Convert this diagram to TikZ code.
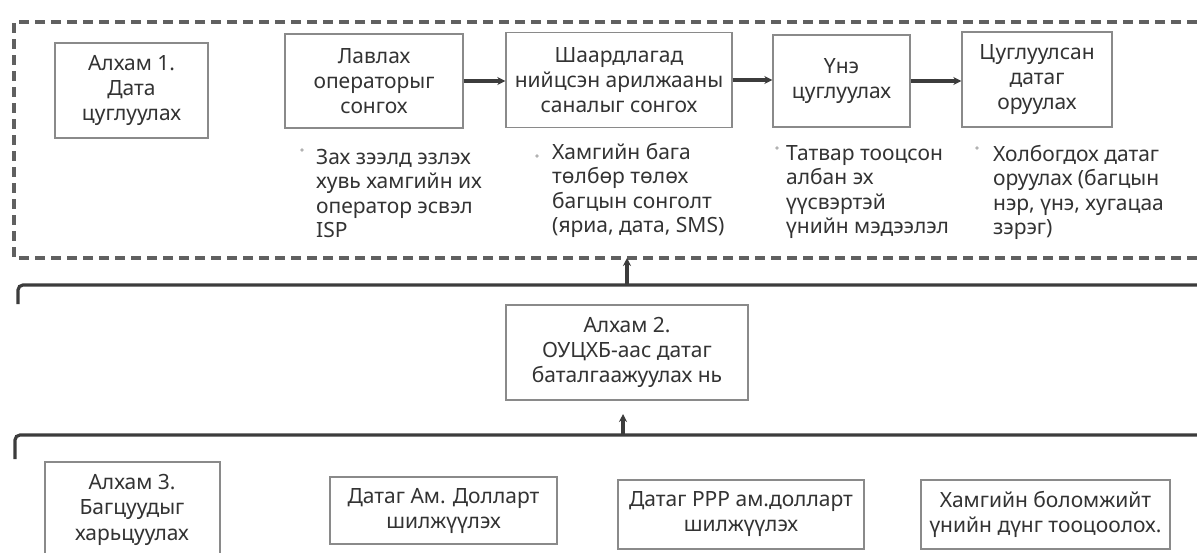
\documentclass[tikz,border=0pt]{standalone}
\usepackage{fontspec}
\setmainfont{Noto Sans}
\usetikzlibrary{arrows.meta}
\definecolor{boxgray}{HTML}{8A8A8A}
\definecolor{txtgray}{HTML}{333333}
\definecolor{linegray}{HTML}{3C3C3C}
\tikzset{
  stepbox/.style={draw=boxgray, line width=1.4pt, text=txtgray, align=center,
    inner sep=0pt, font=\fontsize{21}{25}\selectfont},
  note/.style={anchor=north west, align=left, inner sep=0pt, text=txtgray,
    font=\fontsize{21}{24.5}\selectfont},
  arr/.style={-{Stealth[length=8pt,width=8pt]}, line width=3.5pt, draw=linegray},
  bracket/.style={line width=3.2pt, draw=linegray, rounded corners=5pt},
  frame/.style={line width=3.5pt, draw=gray!75!black, dash pattern=on 10pt off 6pt}
}
\begin{document}
\begin{tikzpicture}[x=1pt,y=-1pt]
	\useasboundingbox (0,0) rectangle (1197,552);
	\fill[white] (0,0) rectangle (1197,552);

	% step 1 frame
	\draw[frame] (1197,22) -- (14,22) -- (14,258) -- (1197,258);
	\coordinate (fb) at (627,258);

	\node[stepbox, minimum width=153, minimum height=95] (s1) at (131.5,90.5) {Алхам 1.\\Дата\\цуглуулах};
	\node[stepbox, minimum width=178, minimum height=94] (lav) at (374,81) {Лавлах\\операторыг\\сонгох};
	\node[stepbox, minimum width=226, minimum height=95] (shaard) at (619,80) {Шаардлагад\\нийцсэн арилжааны\\саналыг сонгох};
	\node[stepbox, minimum width=137, minimum height=92] (une) at (841.5,81) {Үнэ\\цуглуулах};
	\node[stepbox, minimum width=150, minimum height=95] (tsugl) at (1037,79.5) {Цуглуулсан\\датаг\\оруулах};

	\draw[arr] (lav.east) -- (shaard.west |- lav.east);
	\draw[arr] (shaard.east) -- (une.west |- shaard.east);
	\draw[arr] (une.east) -- (tsugl.west |- une.east);

	% notes
	\node[note] (n1) at (316,149) {Зах зээлд эзлэх\\хувь хамгийн их\\оператор эсвэл\\ISP};
	\node[note] (n2) at (552,143) {Хамгийн бага\\төлбөр төлөх\\багцын сонголт\\(яриа, дата, SMS)};
	\node[note] (n3) at (786,145) {Татвар тооцсон\\албан эх\\үүсвэртэй\\үнийн мэдээлэл};
	\node[note] (n4) at (993,145) {Холбогдох датаг\\оруулах (багцын\\нэр, үнэ, хугацаа\\зэрэг)};
	\fill[gray!60] (302,150) circle (1.8);
	\fill[gray!60] (537,156) circle (1.8);
	\fill[gray!60] (777,148) circle (1.8);
	\fill[gray!60] (977,148) circle (1.8);

	% step 2
	\coordinate (b1) at (18,304);
	\coordinate (b1e) at (1200,285);
	\draw[bracket] (b1) |- (b1e);
	\draw[arr] (b1e -| fb) -- (fb);

	\node[stepbox, minimum width=242, minimum height=95] (s2) at (627,352.5) {Алхам 2.\\ОУЦХБ-аас датаг\\баталгаажуулах нь};

	% step 3
	\coordinate (b2) at (15,459);
	\coordinate (b2e) at (1200,435);
	\coordinate (a2) at (623,414);
	\draw[bracket] (b2) |- (b2e);
	\draw[arr] (b2e -| a2) -- (a2);

	\node[text=txtgray, align=center, inner sep=0pt, font=\fontsize{21}{25.5}\selectfont] (s3) at (132,509.5) {Алхам 3.\\Багцуудыг\\харьцуулах};
	\draw[boxgray, line width=1.4pt] (45,560) |- (220,462) -- (220,560);

	\node[stepbox, minimum width=227, minimum height=67] (usd) at (443.5,510.5) {Датаг Ам. Долларт\\шилжүүлэх};
	\node[stepbox, minimum width=246, minimum height=69] (ppp) at (741,514.5) {Датаг PPP ам.долларт\\шилжүүлэх};
	\node[stepbox, minimum width=249, minimum height=69] (best) at (1045.5,514.5) {Хамгийн боломжийт\\үнийн дүнг тооцоолох.};
\end{tikzpicture}
\end{document}
